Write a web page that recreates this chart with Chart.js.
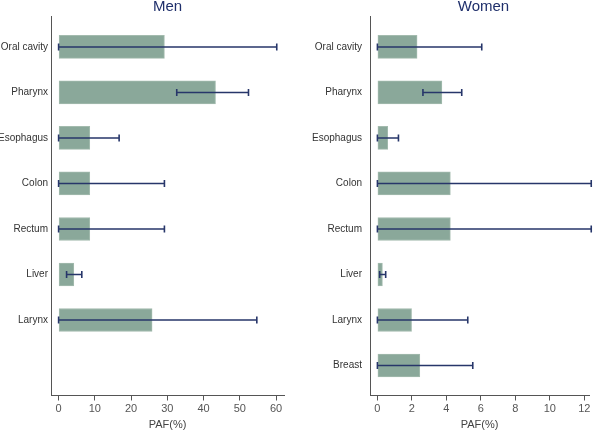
<!DOCTYPE html>
<html>
<head>
<meta charset="utf-8">
<script src="https://cdn.jsdelivr.net/npm/chart.js@4"></script>
<style>
  body { margin: 0; background: #fff; }
  .box { position: absolute; top: 0; width: 300px; height: 430px; }
</style>
</head>
<body>
<div class="box" style="left:0"><canvas id="men"></canvas></div>
<div class="box" style="left:300px"><canvas id="women"></canvas></div>
<script>
// data
const sites = ["Oral cavity", "Pharynx", "Esophagus", "Colon", "Rectum", "Liver", "Larynx", "Breast"];

const menPaf = [29.2, 43.3, 8.6, 8.6, 8.6, 4.2, 25.8];
const menLow = [0, 32.6, 0, 0, 0, 2.2, 0];
const menHigh = [60.2, 52.4, 16.7, 29.2, 29.2, 6.4, 54.7];

const womenPaf = [2.3, 3.74, 0.6, 4.23, 4.23, 0.29, 1.98, 2.46];
const womenLow = [0, 2.64, 0, 0, 0, 0.13, 0, 0];
const womenHigh = [6.05, 4.89, 1.22, 12.4, 12.4, 0.48, 5.24, 5.53];

const menTicks = [0, 10, 20, 30, 40, 50, 60];
const womenTicks = [0, 2, 4, 6, 8, 10, 12];

// error bars + panel title
const errPlugin = {
  id: "errbars",
  afterDatasetsDraw(chart, args, opts) {
    const c = chart.ctx;
    const xs = chart.scales.x, ys = chart.scales.y;
    c.save();
    c.strokeStyle = "#27366a";
    c.lineWidth = 1.6;
    for (let i = 0; i < opts.low.length; i++) {
      const y = ys.getPixelForValue(i);
      const x1 = xs.getPixelForValue(opts.low[i]);
      const x2 = xs.getPixelForValue(opts.high[i]);
      c.beginPath();
      c.moveTo(x1, y); c.lineTo(x2, y);
      c.moveTo(x1, y - 3.5); c.lineTo(x1, y + 3.5);
      c.moveTo(x2, y - 3.5); c.lineTo(x2, y + 3.5);
      c.stroke();
    }
    const a = chart.chartArea;
    c.fillStyle = "#1f2f6b";
    c.font = "15px 'Liberation Sans', Arial, sans-serif";
    c.textAlign = "center";
    c.textBaseline = "middle";
    c.fillText(opts.title, (a.left + a.right) / 2 + opts.titleDx, opts.titleY);
    c.restore();
  }
};

function makeChart(id, title, labels, vals, low, high, ticks, xmin, xmax, yw, padR, tickLen, titleDx) {
  new Chart(document.getElementById(id), {
    type: "bar",
    data: {
      datasets: [{
        data: vals.map((v, i) => ({ x: v, y: i })),
        backgroundColor: "#8aa89a",
        borderColor: "#a3bbae",
        borderWidth: 1,
        borderSkipped: false,
        barThickness: 23
      }]
    },
    options: {
      indexAxis: "y",
      responsive: false,
      animation: false,
      layout: { padding: { top: 16, right: padR, bottom: 0, left: 0 } },
      plugins: {
        legend: { display: false },
        tooltip: { enabled: false },
        errbars: { low: low, high: high, title: title, titleY: 7, titleDx: titleDx }
      },
      scales: {
        y: {
          type: "linear",
          reverse: true,
          offset: false,
          min: -0.68,
          max: 7.66,
          afterFit(s) { s.width = yw; },
          afterBuildTicks(s) { s.ticks = labels.map((l, i) => ({ value: i })); },
          ticks: {
            callback: v => labels[v] || "",
            color: "#333",
            padding: 3,
            font: { family: "'Liberation Sans', Arial", size: 10 }
          },
          grid: { display: false, drawOnChartArea: false, drawTicks: tickLen > 0, tickLength: tickLen, color: "#555" },
          border: { color: "#555", width: 1 }
        },
        x: {
          type: "linear",
          min: xmin,
          max: xmax,
          afterBuildTicks(s) { s.ticks = ticks.map(t => ({ value: t })); },
          ticks: {
            color: "#555",
            padding: 3,
            font: { family: "'Liberation Sans', Arial", size: 11, lineHeight: 1 }
          },
          grid: { drawOnChartArea: false, drawTicks: true, tickLength: 5, color: "#555" },
          border: { color: "#555", width: 1 },
          title: {
            display: true,
            text: "PAF(%)",
            color: "#444",
            padding: { top: 1.5, bottom: 0 },
            font: { family: "'Liberation Sans', Arial", size: 11, lineHeight: 1 }
          }
        }
      }
    },
    plugins: [errPlugin]
  });
}

document.getElementById("men").width = 300;
document.getElementById("men").height = 430;
document.getElementById("women").width = 300;
document.getElementById("women").height = 430;

makeChart("men", "Men", sites.slice(0, 7).concat([""]), menPaf, menLow, menHigh, menTicks, -2.1, 62.2, 51, 16, 0, 0);
makeChart("women", "Women", sites, womenPaf, womenLow, womenHigh, womenTicks, -0.43, 12.27, 70, 11, 5, 4);
</script>
</body>
</html>
